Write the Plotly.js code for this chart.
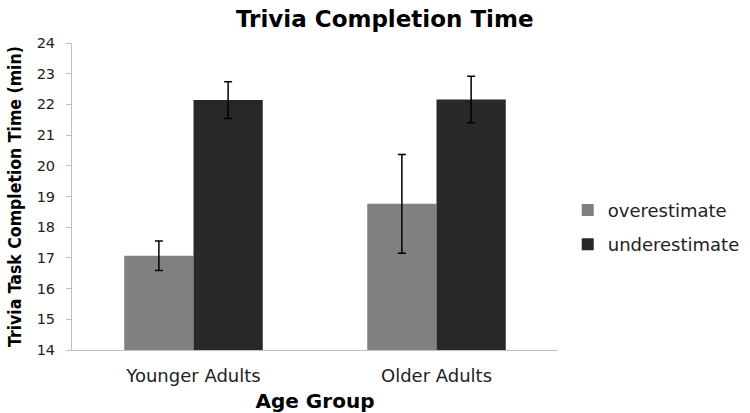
<!DOCTYPE html>
<html>
<head>
<meta charset="utf-8">
<script src="https://cdn.plot.ly/plotly-3.0.1.min.js"></script>
<style>
  html, body { margin: 0; padding: 0; background: #fff; }
  #plot { width: 750px; height: 413px; }
</style>
</head>
<body>
<div id="plot"></div>
<script>
const groups = ['Younger Adults', 'Older Adults'];
const overMeans = [17.07, 18.76];
const overErr = [0.48, 1.61];
const underMeans = [22.14, 22.16];
const underErr = [0.6, 0.76];
const yTicks = [14, 15, 16, 17, 18, 19, 20, 21, 22, 23, 24];
const yFloor = 14;

const fontFam = '"DejaVu Sans", "Open Sans", sans-serif';
const condFam = '"DejaVu Sans Condensed", "DejaVu Sans", sans-serif';

function errBars(arr) {
    return { type: 'data', array: arr, visible: true, color: '#000', thickness: 1.5, width: 4 };
}

// bars start at the axis floor, so heights are relative to it
const traces = [
    {
        type: 'bar',
        name: 'overestimate',
        legendgroup: 'over',
        x: groups,
        y: overMeans.map(v => v - yFloor),
        base: yFloor,
        marker: { color: '#808080' },
        error_y: errBars(overErr)
    },
    {
        type: 'bar',
        name: 'underestimate',
        legendgroup: 'under',
        x: groups,
        y: underMeans.map(v => v - yFloor),
        base: yFloor,
        marker: { color: '#282828' },
        error_y: errBars(underErr)
    }
];

const layout = {
    width: 750,
    height: 413,
    margin: { l: 72, r: 192, t: 43, b: 63, autoexpand: false },
    paper_bgcolor: '#fff',
    plot_bgcolor: '#fff',
    barmode: 'group',
    bargap: 0.43,
    bargroupgap: 0,
    font: { family: fontFam, color: '#333', size: 15 },
    title: {
        text: '<b>Trivia Completion Time</b>',
        font: { family: fontFam, size: 23, color: '#000' },
        x: 0.513, xanchor: 'center', y: 0.955, yanchor: 'middle'
    },
    xaxis: {
        type: 'category',
        range: [-0.5, 1.5],
        showline: true,
        linecolor: '#bfbfbf',
        linewidth: 1,
        ticks: '',
        showgrid: false,
        ticklabelstandoff: 9,
        tickfont: { family: fontFam, size: 18, color: '#222' },
        title: { text: '<b>Age Group</b>', font: { family: fontFam, size: 20, color: '#000' }, standoff: 9 }
    },
    yaxis: {
        range: [14, 24],
        tickvals: yTicks,
        showline: true,
        linecolor: '#bfbfbf',
        linewidth: 1,
        ticks: 'outside',
        ticklen: 5,
        tickcolor: '#bfbfbf',
        showgrid: false,
        zeroline: false,
        ticklabelstandoff: 8,
        tickfont: { family: fontFam, size: 14.5, color: '#222' },
        title: { text: '<b>Trivia Task Completion Time (min)</b>', font: { family: condFam, size: 17.5, color: '#000' }, standoff: 10 }
    },
    legend: {
        x: 1.02, xanchor: 'left',
        y: 0.40, yanchor: 'middle',
        font: { family: fontFam, size: 18, color: '#222' },
        itemwidth: 30,
        tracegroupgap: 8
    },
    showlegend: true
};

Plotly.newPlot('plot', traces, layout, { displayModeBar: false, staticPlot: true });
</script>
</body>
</html>
